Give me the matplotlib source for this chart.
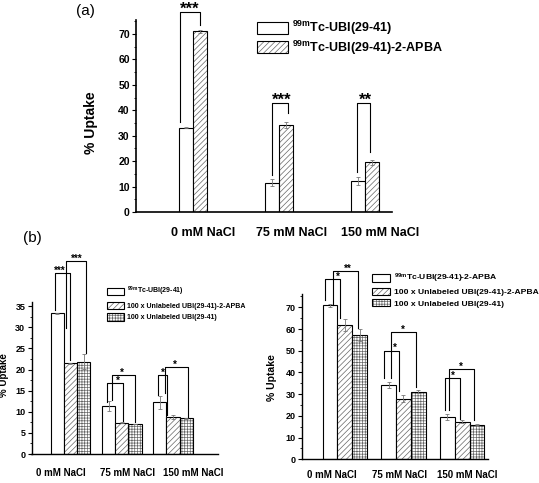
import matplotlib
matplotlib.use('Agg')
import matplotlib.pyplot as plt
from matplotlib.patches import Patch
from matplotlib.ticker import MultipleLocator
import numpy as np

plt.rcParams['font.family'] = ['Liberation Sans', 'DejaVu Sans']
plt.rcParams['font.weight'] = 'bold'
plt.rcParams['axes.labelweight'] = 'bold'
plt.rcParams['mathtext.fontset'] = 'custom'
plt.rcParams['mathtext.rm'] = 'Liberation Sans:bold'
plt.rcParams['mathtext.bf'] = 'Liberation Sans:bold'
plt.rcParams['mathtext.default'] = 'bf'
plt.rcParams['hatch.linewidth'] = 0.5

cats = ['0 mM NaCl', '75 mM NaCl', '150 mM NaCl']

# panel (a)
a_ubi = [33.2, 11.5, 12.2]
a_ubi_err = [0.15, 1.3, 1.5]
a_apba = [71.1, 34.2, 19.6]
a_apba_err = [0.6, 1.2, 1.0]

# panel (b) left
bl_ubi = [33.3, 11.4, 12.2]
bl_ubi_err = [0.15, 1.2, 1.5]
bl_blk_apba = [21.5, 7.4, 8.7]
bl_blk_apba_err = [0.1, 0.1, 0.5]
bl_blk_ubi = [21.9, 7.1, 8.5]
bl_blk_ubi_err = [1.8, 0.05, 0.1]

# panel (b) right
br_apba = [70.9, 34.1, 19.4]
br_apba_err = [0.6, 1.3, 1.3]
br_blk_apba = [61.9, 27.9, 17.4]
br_blk_apba_err = [2.8, 1.6, 0.5]
br_blk_ubi = [57.2, 31.2, 15.9]
br_blk_ubi_err = [2.9, 0.5, 0.2]

lab_ubi = r'$^{99m}$Tc-UBI(29-41)'
lab_apba = r'$^{99m}$Tc-UBI(29-41)-2-APBA'
lab_blk_apba = '100 x Unlabeled UBI(29-41)-2-APBA'
lab_blk_ubi = '100 x Unlabeled UBI(29-41)'

HATCH = {'': '', 'diag': '//////', 'grid': '++++++'}
HATCH_C = '#666666'


def bars(ax, x, h, err, w, kind):
    ax.bar(x, h, w, color='white', edgecolor=HATCH_C, hatch=HATCH[kind], linewidth=0)
    ax.bar(x, h, w, fill=False, edgecolor='k', linewidth=0.8)
    ax.errorbar(x, h, yerr=err, fmt='none', ecolor='#777777', elinewidth=0.6,
                capsize=1.5, capthick=0.6)


def handle(kind):
    return (Patch(facecolor='white', edgecolor=HATCH_C, hatch=HATCH[kind], linewidth=0),
            Patch(fill=False, edgecolor='k', linewidth=0.8))


def bracket(ax, g, xl, xr, ytop, yl, yr, stars, xs, fs, gap=1.0):
    ax.plot([g + xl, g + xl, g + xr, g + xr], [yl, ytop, ytop, yr], color='k', lw=0.8,
            clip_on=False)
    # asterisk glyph starts a bit above the baseline
    ax.annotate(stars, (g + xs, ytop), xytext=(0, gap - 0.22 * fs),
                textcoords='offset points', ha='center', va='baseline',
                fontsize=fs, fontweight='bold', annotation_clip=False)


def style(ax, major, labelsize, lw):
    for s in ['top', 'right']:
        ax.spines[s].set_visible(False)
    for s in ['left', 'bottom']:
        ax.spines[s].set_linewidth(lw)
    ax.yaxis.set_major_locator(MultipleLocator(major))
    ax.yaxis.set_minor_locator(MultipleLocator(major / 2))
    ax.tick_params(axis='y', which='major', direction='out', length=3, width=0.8,
                   labelsize=labelsize, pad=1.5)
    ax.tick_params(axis='y', which='minor', direction='out', length=1.5, width=0.6)
    ax.tick_params(axis='x', length=0)
    for t in ax.get_yticklabels():
        t.set_fontweight('bold')


fig = plt.figure(figsize=(5.39, 4.83), dpi=100)
W, H = 539, 483


def px_axes(l, r, b, t):
    return fig.add_axes([l / W, 1 - b / H, (r - l) / W, (b - t) / H])


x = np.arange(len(cats))

# ---------- (a)
ax = px_axes(136, 392, 212, 20)
bw = 0.163
bars(ax, x - bw / 2, a_ubi, a_ubi_err, bw, '')
bars(ax, x + bw / 2, a_apba, a_apba_err, bw, 'diag')
ax.set_xlim(-0.663, 2.314)
ax.set_ylim(0, 75.5)
style(ax, 10, 7.5, 1.2)
ax.set_xticks(x + np.array([0.116, 0.151, 0.174]))
ax.set_xticklabels(cats, fontsize=9, fontweight='bold')
ax.tick_params(axis='x', pad=11)
ax.set_ylabel('% Uptake', fontsize=10, fontweight='bold')
ax.yaxis.set_label_coords(-0.148, 0.464)
bracket(ax, 0, -0.157, 0.076, 78.8, 35.3, 73.7, '***', -0.035, 12, 1.0)
bracket(ax, 1, -0.076, 0.105, 42.9, 14.5, 38.9, '***', 0.033, 12, 1.0)
bracket(ax, 2, -0.097, 0.063, 42.9, 15.8, 23.6, '**', 0.0, 12, 1.0)
ax.legend([handle(''), handle('diag')], [lab_ubi, lab_apba], loc='upper left',
          bbox_to_anchor=(257 / W, 1 - 19 / H), bbox_transform=fig.transFigure,
          frameon=False, fontsize=9, handlelength=2.48, handleheight=1.12,
          handletextpad=0.35, labelspacing=0.1, borderpad=0, borderaxespad=0)
fig.text(85 / W, 1 - 11 / H, '(a)', ha='center', va='center', fontsize=11,
         fontweight='normal')

# ---------- (b) left
ax = px_axes(31.5, 218, 454, 302)
bw = 0.259
bars(ax, x - bw, bl_ubi, bl_ubi_err, bw, '')
bars(ax, x, bl_blk_apba, bl_blk_apba_err, bw, 'diag')
bars(ax, x + bw, bl_blk_ubi, bl_blk_ubi_err, bw, 'grid')
ax.set_xlim(-0.76, 2.875)
ax.set_ylim(0, 36)
style(ax, 5, 6.5, 1.0)
ax.set_xticks(x + np.array([-0.185, 0.111, 0.40]))
ax.set_xticklabels(cats, fontsize=7, fontweight='bold')
ax.tick_params(axis='x', pad=10)
ax.set_ylabel('% Uptake', fontsize=7, fontweight='bold')
ax.yaxis.set_label_coords(-0.118, 0.52)
bracket(ax, 0, -0.302, -0.01, 42.8, 34.0, 22.3, '***', -0.218, 7)
bracket(ax, 0, -0.094, 0.296, 45.6, 29.9, 23.9, '***', 0.121, 7)
bracket(ax, 1, -0.279, 0.025, 16.7, 12.4, 7.7, '*', -0.084, 7)
bracket(ax, 1, -0.2, 0.253, 18.7, 12.8, 7.6, '*', 0.006, 7)
bracket(ax, 2, -0.298, -0.111, 18.6, 13.9, 9.2, '*', -0.2, 7)
bracket(ax, 2, -0.156, 0.287, 20.5, 14.4, 8.8, '*', 0.04, 7)
ax.legend([handle(''), handle('diag'), handle('grid')], [lab_ubi, lab_blk_apba, lab_blk_ubi],
          loc='upper left', bbox_to_anchor=(106.7 / W, 1 - 285 / H),
          bbox_transform=fig.transFigure, frameon=False, fontsize=5.0,
          handlelength=2.54, handleheight=1.3, handletextpad=0.38, labelspacing=0.5,
          borderpad=0, borderaxespad=0)
fig.text(32 / W, 1 - 238 / H, '(b)', ha='center', va='center', fontsize=11,
         fontweight='normal')

# ---------- (b) right
ax = px_axes(301.7, 488, 459.3, 294.3)
bw = 0.252
bars(ax, x - bw, br_apba, br_apba_err, bw, '')
bars(ax, x, br_blk_apba, br_blk_apba_err, bw, 'diag')
bars(ax, x + bw, br_blk_ubi, br_blk_ubi_err, bw, 'grid')
ax.set_xlim(-0.734, 2.44)
ax.set_ylim(0, 76)
style(ax, 10, 6.5, 1.0)
ax.set_xticks(x + np.array([-0.218, -0.068, 0.09]))
ax.set_xticklabels(cats, fontsize=7, fontweight='bold')
ax.tick_params(axis='x', pad=8)
ax.set_ylabel('% Uptake', fontsize=7.5, fontweight='bold')
ax.yaxis.set_label_coords(-0.133, 0.493)
bracket(ax, 0, -0.337, -0.082, 83.1, 73.5, 64.9, '*', -0.121, 7)
bracket(ax, 0, -0.196, 0.23, 86.6, 71.2, 60.3, '**', 0.043, 7)
bracket(ax, 1, -0.324, -0.068, 50.1, 37.4, 31.5, '*', -0.153, 7)
bracket(ax, 1, -0.21, 0.217, 58.6, 37.4, 33.5, '*', -0.01, 7)
bracket(ax, 2, -0.293, -0.037, 37.4, 22.8, 18.6, '*', -0.162, 7)
bracket(ax, 2, -0.225, 0.2, 41.5, 22.8, 18.2, '*', -0.02, 7)
ax.legend([handle(''), handle('diag'), handle('grid')], [lab_apba, lab_blk_apba, lab_blk_ubi],
          loc='upper left', bbox_to_anchor=(372.3 / W, 1 - 272 / H),
          bbox_transform=fig.transFigure, frameon=False, fontsize=6.1,
          handlelength=2.08, handleheight=0.98, handletextpad=0.48, labelspacing=0.3,
          borderpad=0, borderaxespad=0)

fig.savefig('out.png', dpi=100)
